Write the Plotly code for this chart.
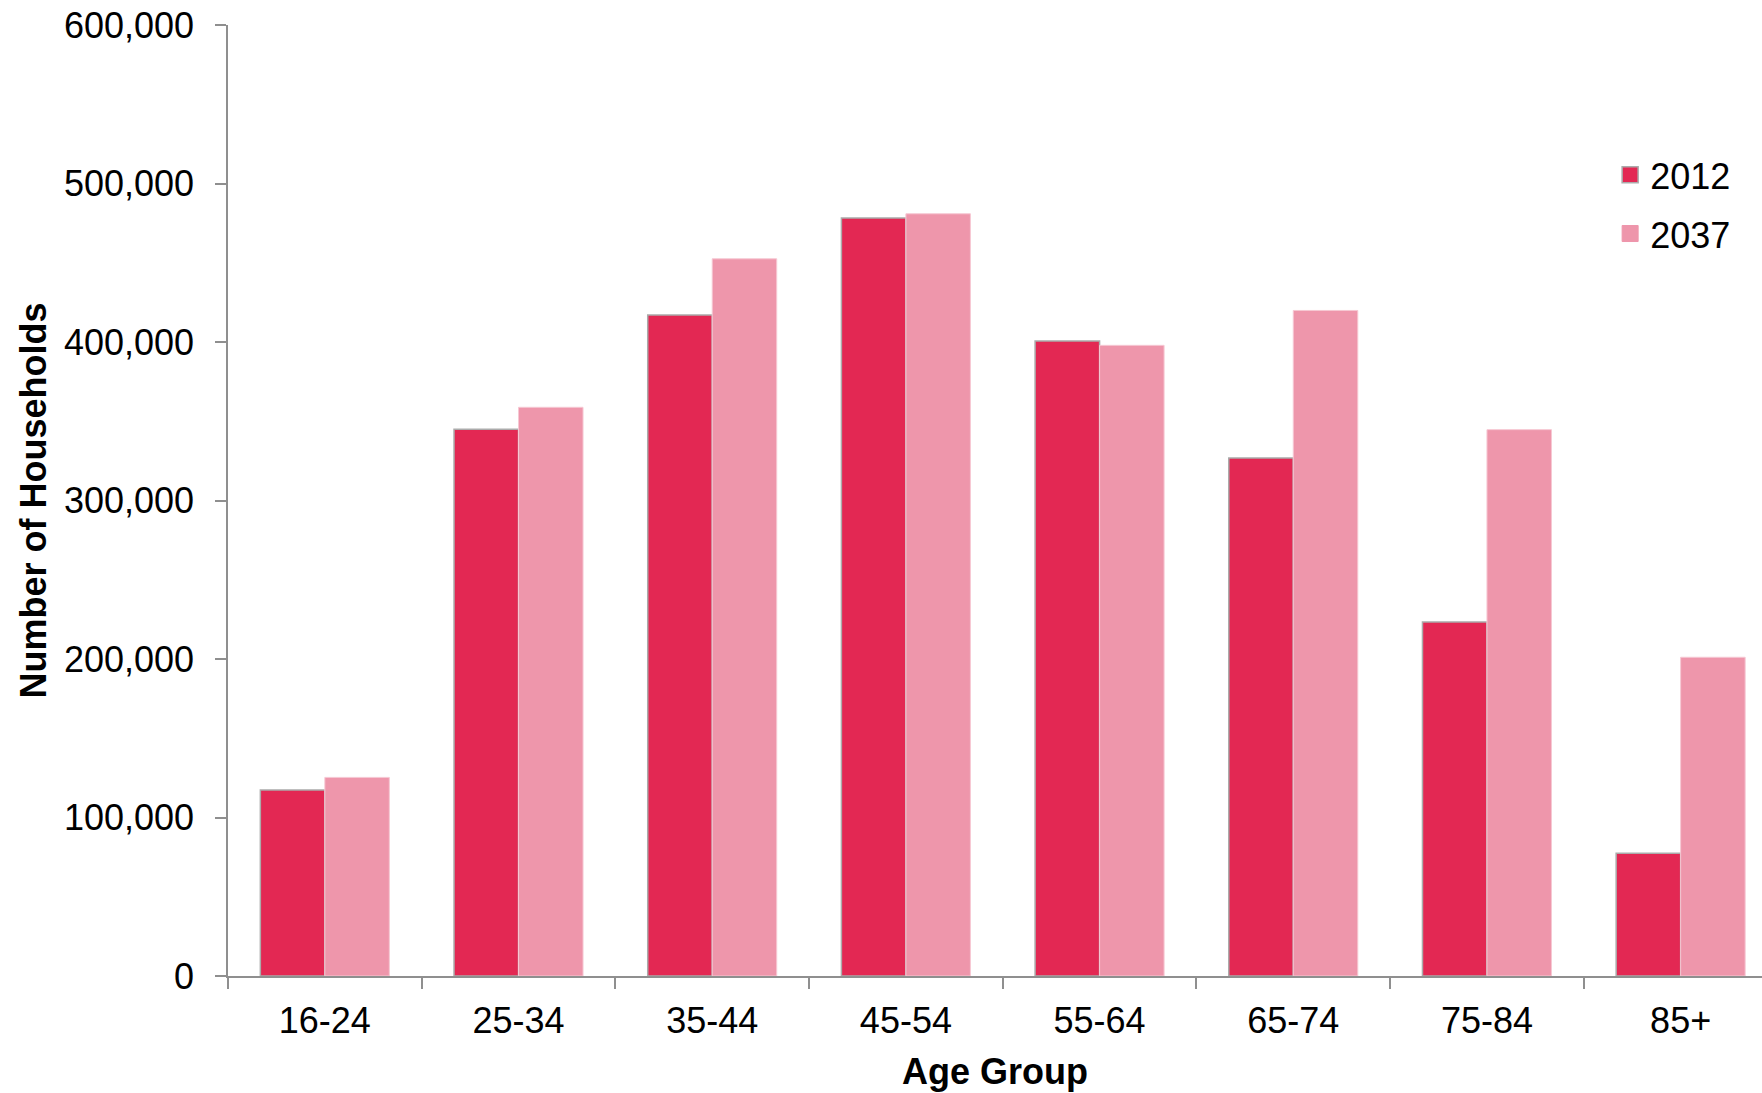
import plotly.graph_objects as go

categories = ["16-24", "25-34", "35-44", "45-54", "55-64", "65-74", "75-84", "85+"]
households_2012 = [117300, 344900, 417000, 478300, 400600, 326800, 223400, 77400]
households_2037 = [125300, 358800, 452500, 480900, 397900, 419900, 344700, 201100]
series_names = ["2012", "2037"]
y_ticks = [0, 100000, 200000, 300000, 400000, 500000, 600000]

FONT = "Arial, 'Liberation Sans', Helvetica, sans-serif"
C2012 = "#E32853"
C2037 = "#EE96AB"
AXIS_C = "#8F8F8F"

fig = go.Figure()
fig.add_trace(go.Bar(x=categories, y=households_2012, name=series_names[0],
                     marker=dict(color=C2012, line=dict(color="#ABABAB", width=1.5)),
                     showlegend=False))
fig.add_trace(go.Bar(x=categories, y=households_2037, name=series_names[1],
                     marker=dict(color=C2037, line=dict(color="#F6C8D3", width=1)),
                     showlegend=False))
# legend entries
fig.add_trace(go.Scatter(x=[None], y=[None], mode="markers", name=series_names[0],
                         legendgroup="a",
                         marker=dict(symbol="square", size=18, color=C2012,
                                     line=dict(color="#ABABAB", width=1.5))))
fig.add_trace(go.Scatter(x=[None], y=[None], mode="markers", name=series_names[1],
                         legendgroup="b",
                         marker=dict(symbol="square", size=18, color=C2037,
                                     line=dict(color=C2037, width=1))))

fig.update_layout(
    width=1762, height=1093,
    margin=dict(l=228, r=0, t=24.5, b=117, autoexpand=False),
    paper_bgcolor="white", plot_bgcolor="white",
    font=dict(family=FONT, size=36, color="black"),
    barmode="group", bargap=0.334, bargroupgap=0,
    legend=dict(x=0.901, y=0.874, xanchor="left", yanchor="top",
                bgcolor="rgba(0,0,0,0)", traceorder="grouped", tracegroupgap=9,
                itemsizing="trace", font=dict(size=36)),
)
fig.update_xaxes(
    type="category", range=[-0.5, 7.42], tickson="boundaries",
    showline=True, linecolor=AXIS_C, linewidth=1.5,
    ticks="outside", ticklen=11, tickcolor=AXIS_C, tickwidth=1.5,
    ticklabelstandoff=12,
    showgrid=False, zeroline=False,
    title=dict(text="<b>Age Group</b>", font=dict(size=36), standoff=18.5),
    automargin=False,
)
fig.update_yaxes(
    range=[0, 600000], tickvals=y_ticks, tickformat=",d",
    showline=True, linecolor=AXIS_C, linewidth=1.5,
    ticks="outside", ticklen=11, tickcolor=AXIS_C, tickwidth=1.5,
    ticklabelstandoff=14, ticklabeloverflow="allow",
    showgrid=False, zeroline=False,
    title=dict(text="<b>Number of Households</b>", font=dict(size=36), standoff=6),
    automargin=False,
)

fig.write_html("out.html", config={"displayModeBar": False},
               post_script="document.body.style.margin='0';")
